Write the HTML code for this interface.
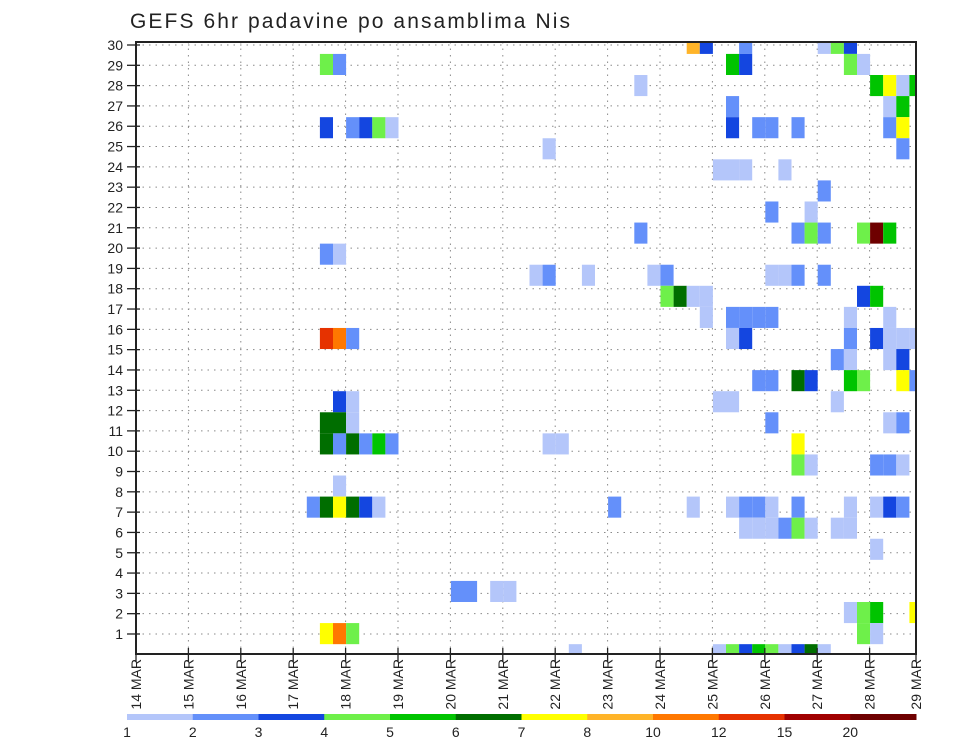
<!DOCTYPE html>
<html><head><meta charset="utf-8"><style>
html,body{margin:0;padding:0;background:#fff;}
svg{display:block;font-family:"Liberation Sans",sans-serif;}
</style></head><body>
<svg id="chart" width="960" height="742" viewBox="0 0 960 742">
<text x="130" y="28" font-size="21" fill="#222" textLength="440">GEFS 6hr padavine po ansamblima Nis</text>
<defs><clipPath id="pc"><rect x="136" y="42" width="780" height="612"/></clipPath></defs>
<g id="grid"></g>
<g id="cells" clip-path="url(#pc)"></g>
<rect x="136" y="42" width="780" height="612" fill="none" stroke="#222" stroke-width="2"/>
<g id="axes"></g>
<g id="legend"></g>
</svg>
<script>
// ---- data ----
const dayLabels = ["14","15","16","17","18","19","20","21","22","23","24","25","26","27","28","29"];
const memberLabels = [1,2,3,4,5,6,7,8,9,10,11,12,13,14,15,16,17,18,19,20,21,22,23,24,25,26,27,28,29,30];
const levelColors = ["#b4c6fa","#6490fa","#1446e0","#6ef04a","#00c400","#006e00","#ffff00","#ffb428","#ff7800","#e63200","#a00000","#6e0000"];
const levelLabels = ["1","2","3","4","5","6","7","8","10","12","15","20"];
// cells: time-step column (6h steps from 14 MAR 00z), ensemble row, colour level (1..12)
const cellCol = [14,15, 14,16,17,18,19, 14,15, 14,15,16, 15,16, 14,15,16, 14,15,16,17,18,19, 15, 13,14,15,16,17,18, 14,15,16,
 24,25,27,28, 31,32, 36, 33, 31, 38, 38, 30,31,34,39,40, 40,41,42,43, 43,
 42,43,46,52,53,54, 45,46,54,55, 56,57,58,59, 45,57,58, 45,47,48,50,57,58, 58, 44,45,46,49, 52, 48,51,
 50,51,52,55,56,57, 48,49,50,52, 55,56, 45,46,47,48,54,57, 45,46,54,56,57,58,59, 53,54,57,58,
 47,48,50,51,54,55,58,59, 44,45,53, 48,57,58, 50, 50,51,56,57,58, 42,45,46,47,48,50,54,56,57,58,
 46,47,48,49,50,51,53,54, 56, 54,55,56,59, 55,56, 44,45,46,47,48,49,50,51,52];
const cellRow = [28,28, 25,25,25,25,25, 19,19, 15,15,15, 12,12, 11,11,11, 10,10,10,10,10,10, 8, 7,7,7,7,7,7, 1,1,1,
 3,3,3,3, 10,10, 7, 0, 24, 27, 20, 18,18,18,18,18, 17,17,17,17, 16,
 29,29,29,29,29,29, 28,28,28,28, 27,27,27,27, 26,26,26, 25,25,25,25,25,25, 24, 23,23,23,23, 22, 21,21,
 20,20,20,20,20,20, 18,18,18,18, 17,17, 16,16,16,16,16,16, 15,15,15,15,15,15,15, 14,14,14,14,
 13,13,13,13,13,13,13,13, 12,12,12, 11,11,11, 10, 9,9,9,9,9, 7,7,7,7,7,7,7,7,7,7,
 6,6,6,6,6,6,6,6, 5, 2,2,2,2, 1,1, 0,0,0,0,0,0,0,0,0];
const cellLevel = [4,2, 3,2,3,4,1, 2,1, 10,9,2, 3,1, 6,6,1, 6,2,6,2,5,2, 1, 2,6,7,6,3,1, 7,9,4,
 2,2,1,1, 1,1, 2, 1, 1, 1, 2, 1,2,1,1,2, 4,6,1,1, 1,
 8,3,2,1,4,3, 5,3,4,1, 5,7,1,5, 2,1,5, 3,2,2,2,2,7, 2, 1,1,1,1, 2, 2,1,
 2,4,2,4,12,5, 1,1,2,2, 3,5, 2,2,2,2,1,1, 1,3,2,3,1,1,1, 2,1,1,3,
 2,2,6,3,5,4,7,2, 1,1,1, 2,1,2, 7, 4,1,2,2,1, 1,1,2,2,1,2,1,1,3,2,
 1,1,1,2,4,1,1,1, 1, 1,4,5,7, 4,1, 1,4,3,5,4,1,3,6,1];

// ---- scales ----
const X0 = 136, X1 = 916, Y0 = 42, Y1 = 654;
const dayW = 52.4;
function xDay(d){ return X0 + d*dayW; }
function xCell(c){ return X0 + 0.5 + c*dayW/4; }
function yLabel(v){ return 654.3 - v*20.31; }
const rowH = 21.08;
function yCellCenter(m){ return 654.7 - m*rowH; }

const NS = "http://www.w3.org/2000/svg";
function mk(tag, attrs, parent){ const e = document.createElementNS(NS, tag); for (const k in attrs) e.setAttribute(k, attrs[k]); parent.appendChild(e); return e; }

const grid = document.getElementById("grid");
const cells = document.getElementById("cells");
const axes = document.getElementById("axes");
const legend = document.getElementById("legend");

memberLabels.forEach(v => {
  const y = yLabel(v);
  const l = mk("line", {x1:X0, x2:X1, y1:y, y2:y, stroke:"#8a8a8a", "stroke-width":1, "stroke-dasharray":"1.5,5"}, grid);
  
  
});
dayLabels.forEach((d,i) => {
  const x = xDay(i);
  if (x > X1) return;
  const l = mk("line", {x1:x, x2:x, y1:Y0, y2:Y1, stroke:"#8a8a8a", "stroke-width":1, "stroke-dasharray":"1.5,5"}, grid);
  
  
});

for (let i = 0; i < cellCol.length; i++) {
  const r = mk("rect", {x:xCell(cellCol[i]), y:yCellCenter(cellRow[i]) - rowH/2, width:dayW/4, height:rowH, fill:levelColors[cellLevel[i]-1]}, cells);
  
  
}

memberLabels.forEach(v => {
  const y = yLabel(v);
  const t = mk("line", {x1:127, x2:140, y1:y, y2:y, stroke:"#222", "stroke-width":1.3}, axes);
  
  
  const tx = mk("text", {x:123, y:y+5, "font-size":14, "text-anchor":"end", fill:"#222"}, axes);
  tx.textContent = v;
  
  
});

dayLabels.forEach((d,i) => {
  let x = xDay(i);
  if (x > X1) x = X1;
  const t = mk("line", {x1:x, x2:x, y1:Y1-6, y2:Y1+8, stroke:"#222", "stroke-width":1.3}, axes);
  
  
  const tx = mk("text", {x:0, y:0, "font-size":14, "text-anchor":"end", fill:"#222", transform:`translate(${x+5},659) rotate(-90)`}, axes);
  tx.textContent = d + " MAR";
  
  
});

const lgX0 = 127, lgX1 = 916, lgW = (lgX1 - lgX0)/levelColors.length;
levelColors.forEach((c,i) => {
  const r = mk("rect", {x:lgX0 + i*lgW, y:714, width:lgW+0.5, height:6, fill:c}, legend);
  
  
});
levelLabels.forEach((s,i) => {
  const tx = mk("text", {x:lgX0 + i*lgW, y:737, "font-size":14, "text-anchor":"middle", fill:"#222"}, legend);
  tx.textContent = s;
  
  
});
</script>
</body></html>
